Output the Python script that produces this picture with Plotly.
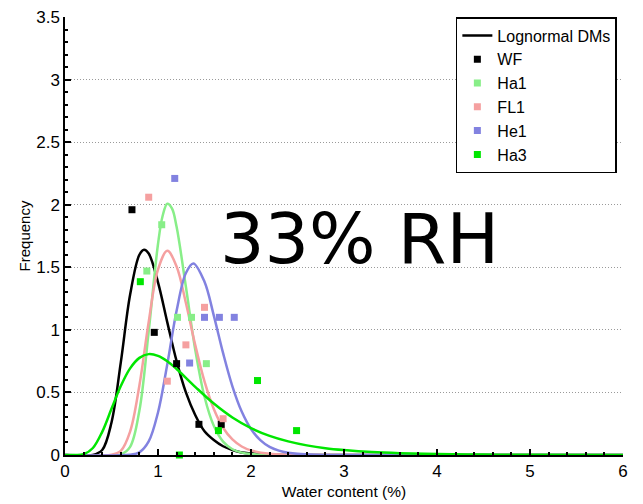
import plotly.graph_objects as go

# measured histogram points (frequency density per bin)
wf_x = [0.72, 0.96, 1.20, 1.44, 1.68]
wf_y = [1.96, 0.98, 0.73, 0.245, 0.245]
ha1_x = [0.88, 1.04, 1.21, 1.36, 1.52]
ha1_y = [1.47, 1.84, 1.10, 1.10, 0.73]
fl1_x = [0.90, 1.10, 1.30, 1.50, 1.70]
fl1_y = [2.06, 0.59, 0.88, 1.18, 0.29]
he1_x = [1.18, 1.34, 1.50, 1.66, 1.82]
he1_y = [2.21, 0.735, 1.10, 1.10, 1.10]
ha3_x = [0.81, 1.23, 1.65, 2.07, 2.49]
ha3_y = [1.385, 0.0, 0.195, 0.595, 0.195]

# lognormal fit curves
wf_fit_x = [0, 0.3, 0.4, 0.5, 0.6, 0.7, 0.8, 0.85, 0.9, 1.0, 1.1, 1.2, 1.3, 1.4, 1.5,
            1.6, 1.7, 1.8, 1.9, 2.0, 2.2, 2.5, 6]
wf_fit_y = [0, 0.001, 0.04, 0.26, 0.74, 1.28, 1.60, 1.64, 1.61, 1.38, 1.06, 0.75, 0.50,
            0.32, 0.19, 0.12, 0.07, 0.04, 0.02, 0.013, 0.004, 0, 0]
ha1_fit_x = [0, 0.6, 0.7, 0.8, 0.9, 1.0, 1.05, 1.1, 1.15, 1.2, 1.3, 1.4, 1.5, 1.6, 1.7,
             1.8, 1.9, 2.0, 2.2, 6]
ha1_fit_y = [0, 0.005, 0.065, 0.356, 0.988, 1.686, 1.912, 2.008, 1.971, 1.823, 1.344,
             0.843, 0.465, 0.233, 0.107, 0.046, 0.019, 0.008, 0.001, 0]
fl1_fit_x = [0, 0.5, 0.6, 0.7, 0.8, 0.9, 1.0, 1.1, 1.2, 1.3, 1.4, 1.5, 1.6, 1.7, 1.8,
             1.9, 2.0, 2.2, 2.4, 2.6, 6]
fl1_fit_y = [0, 0.002, 0.033, 0.187, 0.556, 1.064, 1.482, 1.632, 1.506, 1.214, 0.880,
             0.588, 0.368, 0.218, 0.124, 0.068, 0.037, 0.010, 0.003, 0, 0]
he1_fit_x = [0, 0.7, 0.8, 0.9, 1.0, 1.1, 1.2, 1.3, 1.38, 1.5, 1.6, 1.7, 1.8, 1.9, 2.0,
             2.1, 2.2, 2.3, 2.4, 2.5, 2.7, 2.9, 6]
he1_fit_y = [0, 0.002, 0.021, 0.108, 0.340, 0.726, 1.153, 1.454, 1.531, 1.384, 1.114,
             0.814, 0.549, 0.347, 0.208, 0.119, 0.065, 0.035, 0.018, 0.009, 0.002, 0, 0]
ha3_fit_x = [0, 0.1, 0.2, 0.3, 0.4, 0.5, 0.6, 0.7, 0.8, 0.9, 1.0, 1.1, 1.2, 1.4, 1.6,
             1.8, 2.0, 2.2, 2.4, 2.6, 2.8, 3.0, 3.3, 3.6, 4.0, 4.5, 5.0, 6.0]
ha3_fit_y = [0, 0, 0.006, 0.056, 0.185, 0.369, 0.551, 0.692, 0.776, 0.806, 0.792, 0.749,
             0.687, 0.545, 0.411, 0.300, 0.215, 0.153, 0.109, 0.077, 0.054, 0.039, 0.023,
             0.014, 0.007, 0.003, 0.002, 0]

series = [
    ('WF', wf_x, wf_y, wf_fit_x, wf_fit_y, '#000000'),
    ('Ha1', ha1_x, ha1_y, ha1_fit_x, ha1_fit_y, '#88ee88'),
    ('FL1', fl1_x, fl1_y, fl1_fit_x, fl1_fit_y, '#f5a0a0'),
    ('He1', he1_x, he1_y, he1_fit_x, he1_fit_y, '#8282e0'),
    ('Ha3', ha3_x, ha3_y, ha3_fit_x, ha3_fit_y, '#00e600'),
]

FONT = 'Liberation Sans, Arial, sans-serif'

fig = go.Figure()

# fitted curves first
for i, (name, _, _, fx, fy, color) in enumerate(series):
    fig.add_trace(go.Scatter(
        x=fx, y=fy, mode='lines',
        line=dict(color=color, width=2.5, shape='spline', smoothing=1),
        name='Lognormal DMs', showlegend=(i == 0), legendrank=1,
        hoverinfo='skip'
    ))

# then the measured points
for i, (name, px, py, _, _, color) in enumerate(series):
    fig.add_trace(go.Scatter(
        x=px, y=py, mode='markers', name=name,
        marker=dict(symbol='square', size=7, color=color),
        cliponaxis=False, legendrank=10 + i
    ))

fig.add_annotation(
    x=3.167, y=1.73, text='33% RH', showarrow=False,
    font=dict(family='DejaVu Sans', size=70, color='black'),
    xanchor='center', yanchor='middle'
)

fig.update_xaxes(
    range=[0, 6], tickvals=[0, 1, 2, 3, 4, 5, 6],
    showline=True, linecolor='black', linewidth=1.5,
    ticks='inside', ticklen=6, tickwidth=1.5, tickcolor='black',
    minor=dict(dtick=0.2, ticks='inside', ticklen=3, tickcolor='black', showgrid=False),
    showgrid=False, zeroline=False, mirror=False, automargin=False,
    tickfont=dict(family=FONT, size=17, color='black'),
    title=dict(text='Water content (%)', font=dict(family=FONT, size=15.5, color='black'),
               standoff=6)
)
fig.update_yaxes(
    range=[0, 3.5], tickvals=[0, 0.5, 1, 1.5, 2, 2.5, 3, 3.5],
    ticktext=['0', '0.5', '1', '1.5', '2', '2.5', '3', '3.5'],
    showline=True, linecolor='black', linewidth=1.5,
    ticks='inside', ticklen=6, tickwidth=1.5, tickcolor='black',
    minor=dict(dtick=0.1, ticks='inside', ticklen=3, tickcolor='black', showgrid=False),
    showgrid=True, gridcolor='#9a9a9a', griddash='1px,2px', gridwidth=1,
    zeroline=False, mirror=False, automargin=False, ticklabeloverflow='allow',
    tickfont=dict(family=FONT, size=17, color='black'),
    title=dict(text='Frequency', font=dict(family=FONT, size=15, color='black'),
               standoff=2)
)

# page body adds an 8px offset, so the figure is shrunk to match
fig.update_layout(
    width=635, height=496,
    margin=dict(l=57, r=20, t=9, b=49),
    plot_bgcolor='white', paper_bgcolor='white',
    legend=dict(
        x=0.989, y=1.0, xanchor='right', yanchor='top',
        bgcolor='white', bordercolor='black', borderwidth=1.5,
        font=dict(family=FONT, size=16, color='black'),
        tracegroupgap=0
    ),
    showlegend=True
)

fig.write_html('out.html')
